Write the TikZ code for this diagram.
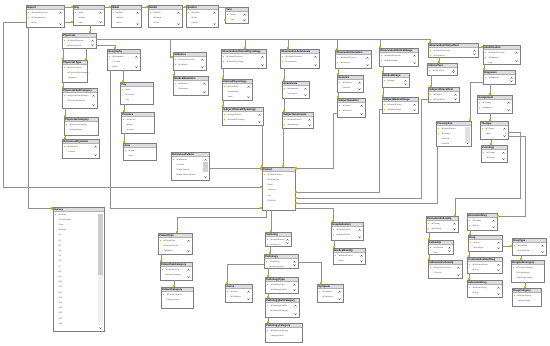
\documentclass[tikz,border=0pt]{standalone}
\usepackage{fontspec}
\setmainfont{Liberation Sans}
\usetikzlibrary{arrows.meta,shadows}
\definecolor{keyc}{HTML}{C9B800}
\definecolor{linec}{HTML}{929292}
\definecolor{boxc}{HTML}{7E7E7E}
\definecolor{titlec}{HTML}{DADDE2}
\tikzset{
 tbox/.style={draw=boxc, line width=1pt, fill=white, anchor=north west, inner sep=0pt, outer sep=0pt,
   drop shadow={shadow xshift=0.9pt,shadow yshift=-0.9pt,fill=gray!45}},
 ttext/.style={anchor=west, inner sep=0pt, font=\fontsize{2.6}{3}\selectfont\bfseries, text=black},
 rtext/.style={anchor=west, inner sep=0pt, font=\fontsize{1.9}{2.2}\selectfont, text=black!70},
 conn/.style={draw=linec, line width=0.95pt, -{Square[length=2.4pt,width=2.4pt,color=keyc]}},
 chev/.style={draw=black!75, line width=0.35pt},
}
% id, x, y, w, h, title, rows, key rows, chevrons
\newcommand\tbl[9]{%
  \node[tbox, minimum width=#4pt, minimum height=#5pt] (#1) at (#2,#3) {};
  \fill[titlec] ([shift={(0.5pt,-0.5pt)}]#1.north west) rectangle ([shift={(-0.5pt,-4.6pt)}]#1.north east);
  \draw[boxc!60, line width=0.3pt] ([shift={(0.5pt,-4.6pt)}]#1.north west) -- ([shift={(-0.5pt,-4.6pt)}]#1.north east);
  \node[ttext] at ([shift={(1.2pt,-2.5pt)}]#1.north west) {#6};
  \foreach \r [count=\i] in {#7} {
    \node[rtext] at ([shift={(5.5pt,{-2.4pt-\i*5.2pt})}]#1.north west) {\r};
    \ifnum\i>#8 \else
      \fill[keyc] ([shift={(2.4pt,{-2.4pt-\i*5.2pt})}]#1.north west) circle (0.7pt);
    \fi
  }
  \ifnum#9=1
    \draw[chev] ([shift={(-4.6pt,-8.4pt)}]#1.north east) -- ++(1.1pt,1pt) -- ++(1.1pt,-1pt);
    \draw[chev] ([shift={(-4.6pt,3.4pt)}]#1.south east) -- ++(1.1pt,-1pt) -- ++(1.1pt,1pt);
  \fi
}
\begin{document}
\begin{tikzpicture}[x=1pt,y=-1pt]
\fill[white] (0,0) rectangle (550,346);
\useasboundingbox (0,0) rectangle (550,346);

% ---- time dimension
\tbl{report}{26}{5}{38}{22}{Report}{IdSubjectPhysician,IdSubjectPatient,IdDay}{2}{1}
\tbl{day}{73}{5}{31}{20}{Day}{IdDay,IdWeek,Date}{1}{1}
\tbl{week}{111}{5}{30}{22}{Week}{IdWeek,IdMonth,Week}{1}{1}
\tbl{month}{148}{5}{34}{22}{Month}{IdMonth,IdQuarter,Month}{1}{1}
\tbl{quarter}{186}{5}{32}{22}{Quarter}{IdQuarter,IdYear,Quarter}{1}{1}
\tbl{year}{225}{7}{23}{16}{Year}{IdYear,Year}{1}{1}

% ---- physician
\tbl{physician}{62}{33}{34}{15}{Physician}{IdSubjectPhysician,IdPhysicianType}{1}{1}
\tbl{phystype}{62}{60}{25}{22}{PhysicianType}{IdPhysicianType,IdPhysicianSubCategory,TypeName}{1}{0}
\tbl{physsub}{62}{88}{35}{20}{PhysicianSubCategory}{IdPhysicianSubCategory,IdPhysicianCategory}{1}{1}
\tbl{physcat}{64}{117}{34}{18}{PhysicianCategory}{IdPhysicianCategory,CategoryName}{1}{0}
\tbl{refphys}{62}{139}{37}{19}{ReferencePhysician}{IdReference,Surname}{1}{1}

% ---- geography
\tbl{geo}{107}{49}{33}{21}{Geography}{IdGeography,Province,IdCity}{1}{1}
\tbl{city}{120}{82}{33}{22}{City}{IdCity,IdProvince,City}{1}{0}
\tbl{province}{121}{112}{33}{21}{Province}{IdProvince,IdArea,Province}{1}{0}
\tbl{area}{123}{143}{33}{17}{Area}{IdArea,Area}{1}{0}

% ---- statistics
\tbl{stats}{173}{52}{33}{18}{Statistics}{IdSubjectPhysician,IdStatistics}{2}{1}
\tbl{medstats}{173}{76}{35}{19}{MedicalStatistics}{IdStatistics,Description}{1}{1}

% ---- observations
\tbl{ocp}{221}{49}{45}{19}{ObservationClinicalPhysiology}{IdSubjectPhysician,IdClinicalPhysiology}{2}{1}
\tbl{cp}{222}{79}{30}{21}{ClinicalPhysiology}{IdClinicalPhy,NormalValue,Name}{1}{1}
\tbl{scp}{222}{107}{41}{18}{SubjectClinicalPhysiology}{IdSubjectPatient,IdClinicalPhysiology}{2}{1}

\tbl{oan}{280}{49}{39}{19}{ObservationAnamnesis}{IdSubjectPhysician,IdAnamnesis}{2}{1}
\tbl{an}{282}{81}{27}{17}{Anamnesis}{IdAnamnesis,Description}{1}{1}
\tbl{san}{282}{112}{31}{16}{SubjectAnamnesis}{IdSubjectPatient,IdAnamnesis}{2}{1}

\tbl{ogen}{335}{50}{36}{18}{ObservationGenetics}{IdSubjectPhysician,IdGenetics}{2}{1}
\tbl{gen}{337}{75}{26}{17}{Genetics}{IdGenetics,Genetics}{1}{1}
\tbl{sgen}{337}{98}{28}{19}{SubjectGenetics}{IdSubject,IdGenetics}{2}{1}

\tbl{omi}{379}{48}{39}{18}{ObservationMedicalImage}{IdSubjectPhysician,IdMedicalImage}{2}{1}
\tbl{mi}{382}{73}{27}{14}{MedicalImage}{IdImage}{1}{1}
\tbl{smi}{382}{97}{36}{16}{SubjectMedicalImage}{IdSubjectPatient,IdMedicalImage}{2}{1}

\tbl{oct}{428}{43}{50}{14}{ObservationClinicalTest}{IdSubjectPhysician,IdClinicalTest}{2}{1}
\tbl{ct}{427}{63}{30}{12}{ClinicalTest}{IdClinicalTest}{1}{1}
\tbl{sct}{428}{87}{31}{15}{SubjectClinicalTest}{IdSubject,IdClinicalTest}{2}{1}

% ---- diagnosis / therapy
\tbl{ident}{483}{45}{37}{19}{Identification}{IdSubjectPhysician,IdDiagnosis,Date}{2}{1}
\tbl{diag}{483}{70}{32}{14}{Diagnosis}{IdDiagnosis}{1}{1}
\tbl{assign}{477}{95}{35}{18}{Assignment}{IdTherapy,IdDiagnosis}{2}{1}
\tbl{presc}{436}{121}{35}{25}{Prescription}{IdSubjectPatient,IdTherapy,DateStart,DateEnd}{2}{1}
\tbl{therapy}{480}{121}{28}{18}{Therapy}{IdTherapy,Name}{1}{1}
\tbl{poso}{481}{145}{26}{17}{Posology}{IdTherapy,IdDosage}{1}{1}
\fill[gray!25] (465,127) rectangle (469.5,143);

% ---- patient
\tbl{refpat}{171}{152}{38}{28}{ReferencePatient}{IdReference,Surname,Phone Number,Mobile Phone Number}{1}{1}
\fill[gray!35] (203,162) rectangle (207.5,172);
\tbl{patient}{262}{167}{33}{43}{Patient}{IdSubjectPatient,IdPatientType,Name,Surname,Sex,BirthDate}{1}{0}

% ---- survey
\tbl{survey}{53}{207}{51}{124}{Survey}{IdSurvey,SurveyNumber,Code,IdPatient,Q1,Q2,Q3,Q4,Q5,Q6,Q7,Q8,Q9,Q10,Q11,Q12,Q13,Q14,Q15,Q16,Q17,Q18}{1}{1}
\fill[gray!12] (97.5,214) rectangle (102.5,325);
\fill[gray!40] (97.5,214) rectangle (102.5,275);

% ---- hospitalization / pathology
\tbl{hosp}{331}{222}{32}{18}{Hospitalization}{IdSubjectPatient,IdMedicalFacility}{2}{1}
\tbl{medfac}{333}{248}{32}{16}{MedicalFacility}{IdMedicalFacility,Name}{1}{1}
\tbl{suff}{265}{232}{26}{14}{Suffering}{IdSubjectPatient,IdPathology}{2}{1}
\tbl{path}{264}{254}{34}{14}{Pathology}{IdPathology,IdPathologyType}{1}{1}
\tbl{ptype}{265}{277}{33}{16}{PathologyType}{IdPathologyType,IdPathologySubCat}{1}{1}
\tbl{psub}{265}{298}{34}{19}{PathologySubCategory}{IdPathologySubCat,IdPathologyCategory}{1}{1}
\tbl{pcat}{265}{323}{37}{19}{PathologyCategory}{IdPathologyCategory,CategoryName}{1}{0}
\tbl{cause}{225}{284}{27}{18}{Cause}{IdCause,IdPathology}{1}{1}
\tbl{symp}{317}{284}{26}{18}{Symptom}{IdSymptom,IdPathology}{1}{1}

\tbl{pattype}{158}{233}{34}{21}{PatientType}{IdPatientType,IdPatientSubCat,TypeName}{1}{1}
\tbl{patsub}{160}{262}{32}{18}{PatientSubCategory}{IdPatientSubCat,IdPatientCategory}{1}{1}
\tbl{patcat}{161}{287}{32}{21}{PatientCategory}{IdPatientCategory,CategoryName}{1}{0}

% ---- execution / drugs
\tbl{exfu}{426}{216}{32}{16}{ExecutionFollowUp}{IdTherapy,IdFollowUp}{2}{1}
\tbl{exdrug}{467}{213}{30}{17}{ExecutionDrug}{IdTherapy,IdDrug}{2}{1}
\tbl{fu}{428}{240}{25}{14}{FollowUp}{IdFollowUp,Date}{1}{1}
\tbl{ifu}{428}{260}{34}{18}{IndicationFollowUp}{IdIndicationFollowUp,FollowUp}{1}{1}
\tbl{drug}{468}{235}{34}{16}{Drug}{IdDrug,IdDrugType}{1}{1}
\tbl{cdrug}{467}{257}{35}{16}{ContraindicationDrug}{IdContraindication,IdDrug}{1}{1}
\tbl{idrug}{467}{280}{35}{17}{IndicationDrug}{IdIndicationDrug,IdDrug}{1}{1}
\tbl{dtype}{512}{238}{34}{17}{DrugType}{IdDrugType,IdDrugSubCat}{1}{1}
\tbl{dsub}{511}{260}{33}{22}{DrugSubCategory}{IdDrugSubCategory,IdDrugCategory,SubCategoryName}{1}{0}
\tbl{dcat}{512}{288}{29}{18}{DrugCategory}{IdDrugCategory,CategoryName}{1}{0}

% ================= connectors
\draw[conn] ([yshift=-17pt]report.north east) -- ([yshift=-17pt]day.north west);
\draw[conn] ([yshift=-2pt]report.north east) -- ([yshift=-2pt]day.north west);
\draw[conn] ([yshift=-2pt]day.north east) -- ([yshift=-2pt]week.north west);
\draw[conn] ([yshift=-2pt]week.north east) -- ([yshift=-2pt]month.north west);
\draw[conn] ([yshift=-2pt]month.north east) -- ([yshift=-2pt]quarter.north west);
\draw[conn] ([yshift=-2pt]quarter.north east) -- ++(7,0) |- ([yshift=-12pt]year.north west);
\draw[conn] ([xshift=17pt]day.south west) -- ([xshift=28pt]physician.north west);
\draw[conn] ([yshift=-17pt]report.north west) -- ++(-23,0) |- ([yshift=-20pt]patient.north west);
\draw[conn] ([xshift=2pt]report.south west) |- ([yshift=-1.5pt]survey.north west);
\draw[conn] ([xshift=3pt]geo.south west) |- ([yshift=-41pt]patient.north west);

% bus
\draw[conn] ([yshift=-6pt]physician.north east) -| ([xshift=2pt]oct.north west);
\draw[conn] ([xshift=24pt,yshift=10pt]ocp.north west) -- ([xshift=24pt]ocp.north west);
\draw[conn] ([xshift=8pt,yshift=10pt]oan.north west) -- ([xshift=8pt]oan.north west);
\draw[conn] ([xshift=2pt,yshift=11pt]ogen.north west) -- ([xshift=2pt]ogen.north west);
\draw[conn] ([xshift=1pt,yshift=9pt]omi.north west) -- ([xshift=1pt]omi.north west);
\draw[conn] ([xshift=-3pt,yshift=13pt]stats.north west) |- ([yshift=-5pt]stats.north west);
\draw[conn] ([yshift=-12pt]physician.north east) -| ([xshift=8pt]geo.north west);

% physician chain
\draw[conn] ([xshift=1pt]physician.south west) -- ([xshift=1pt]phystype.north west);
\draw[conn] ([xshift=24pt]physician.south west) -- ([xshift=24pt]phystype.north west);
\draw[conn] ([xshift=1pt]phystype.south west) -- ([xshift=1pt]physsub.north west);
\draw[conn] ([xshift=3pt]physsub.south west) -- ([xshift=1pt]physcat.north west);
\draw[conn] ([xshift=1pt]physcat.south west) -- ([xshift=3pt]refphys.north west);

% geography chain
\draw[conn] ([xshift=16pt]geo.south west) -- ([xshift=3pt]city.north west);
\draw[conn] ([xshift=4pt]city.south west) -- ([xshift=3pt]province.north west);
\draw[conn] ([xshift=3pt]province.south west) -- ([xshift=1pt]area.north west);
\draw[conn] ([xshift=1pt]stats.south west) -- ([xshift=1pt]medstats.north west);

% observation chains
\draw[conn] ([xshift=2pt]ocp.south west) -- ([xshift=1pt]cp.north west);
\draw[conn] ([xshift=1pt]cp.south west) -- ([xshift=1pt]scp.north west);
\draw[conn] ([xshift=-1pt]scp.south east) -- (patient.north west);
\draw[conn] ([xshift=4pt]oan.south west) -- ([xshift=2pt]an.north west);
\draw[conn] ([xshift=2pt]an.south west) -- ([xshift=2pt]san.north west);
\draw[conn] ([xshift=1pt]san.south west) -- ([xshift=21pt]patient.north west);
\draw[conn] ([xshift=3pt]ogen.south west) -- ([xshift=1pt]gen.north west);
\draw[conn] ([xshift=1pt]gen.south west) -- ([xshift=1pt]sgen.north west);
\draw[conn] ([yshift=-15pt]sgen.north west) -- ++(-4,0) |- ([yshift=-1.5pt]patient.north east);
\draw[conn] ([xshift=4pt]omi.south west) -- ([xshift=1pt]mi.north west);
\draw[conn] ([xshift=1pt]mi.south west) -- ([xshift=1pt]smi.north west);
\draw[conn] ([yshift=-12pt]smi.north west) -- ++(-3,0) |- ([yshift=-25pt]patient.north east);
\draw[conn] ([xshift=11pt]oct.south west) -- ([xshift=12pt]ct.north west);
\draw[conn] ([xshift=4pt]ct.south west) -- ([xshift=3pt]sct.north west);
\draw[conn] ([yshift=-4pt]oct.north east) -- ([yshift=-2pt]ident.north west);
\draw[conn] ([yshift=-12pt]sct.north west) -- ++(-7,0) |- ([yshift=-31pt]patient.north east);

% diagnosis / therapy
\draw[conn] ([xshift=1pt]ident.south west) -- ([xshift=1pt]diag.north west);
\draw[conn] ([xshift=7pt]diag.south west) -- ([xshift=13pt]assign.north west);
\draw[conn] ([xshift=13pt]assign.south west) -- ([xshift=10pt]therapy.north west);
\draw[conn] ([xshift=11pt]therapy.south west) -- ([xshift=10pt]poso.north west);
\draw[conn] ([yshift=-12pt]diag.north west) -| ([xshift=34pt]presc.north west);
\draw[conn] ([xshift=1pt]presc.south west) |- ([yshift=-36pt]patient.north east);
\draw[conn] ([yshift=-11pt]therapy.north east) -- ++(12,0) -- ++(0,66) -| ([xshift=29pt]exfu.north west);
\draw[conn] ([yshift=-15pt]therapy.north east) -- ++(17,0) |- ([yshift=-3pt]exdrug.north east);

% execution / drug chains
\draw[conn] ([xshift=3pt]exfu.south west) -- ([xshift=1pt]fu.north west);
\draw[conn] ([xshift=1pt]fu.south west) -- ([xshift=1pt]ifu.north west);
\draw[conn] ([xshift=3pt]exdrug.south west) -- ([xshift=2pt]drug.north west);
\draw[conn] ([xshift=1pt]drug.south west) -- ([xshift=2pt]cdrug.north west);
\draw[conn] ([xshift=2pt]cdrug.south west) -- ([xshift=2pt]idrug.north west);
\draw[conn] ([yshift=-11pt]drug.north east) -- ([yshift=-8pt]dtype.north west);
\draw[conn] ([xshift=9pt]dtype.south west) -- ([xshift=10pt]dsub.north west);
\draw[conn] ([xshift=14pt]dsub.south west) -- ([xshift=13pt]dcat.north west);

% patient relations
\draw[conn] ([yshift=-16.5pt]refpat.north east) -- ([yshift=-1.5pt]patient.north west);
\draw[conn] ([xshift=4pt]patient.south west) -- ++(0,7) -| ([xshift=19pt]pattype.north west);
\draw[conn] ([xshift=9pt]patient.south west) -- ([xshift=6pt]suff.north west);
\draw[conn] ([yshift=2pt]patient.south east) -| ([xshift=2pt]hosp.north west);
\draw[conn] ([xshift=3pt]hosp.south west) -- ([xshift=1pt]medfac.north west);
\draw[conn] ([xshift=5pt]suff.south west) -- ([xshift=6pt]path.north west);
\draw[conn] ([yshift=-10pt]path.north west) -| ([xshift=2pt]cause.north west);
\draw[conn] ([yshift=-8pt]path.north east) -| ([xshift=4pt]symp.north west);
\draw[conn] ([xshift=4pt]path.south west) -- ([xshift=3pt]ptype.north west);
\draw[conn] ([xshift=3pt]ptype.south west) -- ([xshift=3pt]psub.north west);
\draw[conn] ([xshift=3pt]psub.south west) -- ([xshift=3pt]pcat.north west);
\draw[conn] ([xshift=3pt]pattype.south west) -- ([xshift=1pt]patsub.north west);
\draw[conn] ([xshift=14pt]patsub.south west) -- ([xshift=13pt]patcat.north west);
\end{tikzpicture}
\end{document}
